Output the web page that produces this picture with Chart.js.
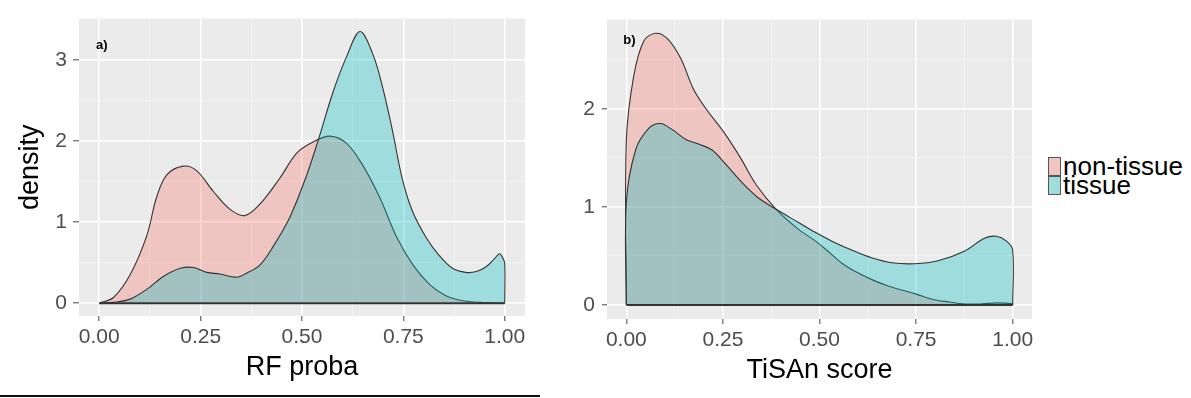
<!DOCTYPE html>
<html>
<head>
<meta charset="utf-8">
<script src="https://cdn.jsdelivr.net/npm/chart.js@4.4.1/dist/chart.umd.min.js"></script>
<style>
    body { margin: 0; background: #fff; width: 1191px; height: 398px; overflow: hidden; position: relative; font-family: "Liberation Sans", Arial, sans-serif; }
    #wrapA { position: absolute; left: 0; top: 0; }
    #wrapB { position: absolute; left: 545px; top: 0; }
    #legend { position: absolute; left: 1048px; top: 157px; }
    .row { display: flex; align-items: center; height: 19px; }
    .key { width: 11px; height: 17px; background: #EBEBEB; border: 1px solid #555; position: relative; }
    .key div { position: absolute; inset: 0; }
    .lbl { font-size: 26px; color: #000; margin-left: 2px; line-height: 19px; }
    #rule { position: absolute; left: 0; top: 395px; width: 540px; height: 2px; background: #111; }
</style>
</head>
<body>
<div id="wrapA"><canvas id="chartA" width="545" height="398"></canvas></div>
<div id="wrapB"><canvas id="chartB" width="500" height="398"></canvas></div>
<div id="legend"></div>
<div id="rule"></div>
<script>
// ✅ data
const seriesNames = ["non-tissue", "tissue"];

// a) RF proba
const rfNonTissueX = [0, 0.035, 0.076, 0.117, 0.141, 0.166, 0.207, 0.24, 0.281, 0.322, 0.359, 0.396, 0.445, 0.487, 0.528, 0.569, 0.61, 0.651, 0.692, 0.733, 0.774, 0.815, 0.856, 0.897, 0.938, 1.0];
const rfNonTissueY = [0, 0.07, 0.35, 0.83, 1.30, 1.58, 1.69, 1.635, 1.38, 1.16, 1.08, 1.22, 1.54, 1.85, 1.99, 2.06, 1.97, 1.69, 1.30, 0.82, 0.47, 0.23, 0.09, 0.03, 0.01, 0];
const rfTissueX = [0, 0.035, 0.076, 0.117, 0.158, 0.2, 0.232, 0.265, 0.297, 0.339, 0.363, 0.396, 0.429, 0.47, 0.511, 0.54, 0.577, 0.61, 0.643, 0.674, 0.698, 0.723, 0.747, 0.772, 0.805, 0.838, 0.871, 0.904, 0.93, 0.954, 0.975, 0.987, 0.995, 1.0, 1.0];
const rfTissueY = [0, 0.01, 0.05, 0.17, 0.33, 0.43, 0.44, 0.38, 0.36, 0.32, 0.37, 0.47, 0.70, 1.06, 1.57, 2.01, 2.61, 3.04, 3.35, 3.08, 2.68, 2.13, 1.54, 1.14, 0.82, 0.59, 0.43, 0.38, 0.39, 0.45, 0.55, 0.61, 0.56, 0.49, 0];

// b) TiSAn score
const tsNonTissueX = [0, 0, 0.019, 0.045, 0.075, 0.105, 0.14, 0.174, 0.208, 0.251, 0.294, 0.337, 0.389, 0.446, 0.49, 0.515, 0.56, 0.593, 0.64, 0.68, 0.75, 0.8, 0.836, 0.87, 0.92, 0.96, 1.0, 1.0];
const tsNonTissueY = [0, 1.67, 2.33, 2.69, 2.77, 2.72, 2.52, 2.20, 1.99, 1.77, 1.51, 1.22, 0.97, 0.77, 0.65, 0.57, 0.42, 0.34, 0.25, 0.19, 0.11, 0.05, 0.03, 0.01, 0.01, 0.02, 0.01, 0];
const tsTissueX = [0, 0, 0.024, 0.058, 0.088, 0.118, 0.153, 0.187, 0.222, 0.256, 0.299, 0.342, 0.39, 0.446, 0.489, 0.532, 0.583, 0.635, 0.687, 0.747, 0.807, 0.876, 0.927, 0.958, 0.984, 1.0, 1.0];
const tsTissueY = [0, 1.04, 1.58, 1.80, 1.85, 1.79, 1.69, 1.64, 1.58, 1.44, 1.25, 1.09, 0.97, 0.84, 0.74, 0.65, 0.56, 0.48, 0.43, 0.42, 0.45, 0.55, 0.68, 0.70, 0.65, 0.56, 0];

// tick values
const xMajorTicks = [0, 0.25, 0.5, 0.75, 1];
const xMinorTicks = [0.125, 0.375, 0.625, 0.875];
const yMajorTicksA = [0, 1, 2, 3];
const yMinorTicksA = [0.5, 1.5, 2.5];
const yMajorTicksB = [0, 1, 2];
const yMinorTicksB = [0.5, 1.5, 2.5];

// ✅ styles
const fills = ["rgba(248,118,109,0.32)", "rgba(0,191,196,0.32)"];
const outline = "#333";
const tickFont = { family: "Liberation Sans", size: 21 };
const titleFont = { family: "Liberation Sans", size: 27 };

const toPts = (xs, ys) => xs.map((x, i) => ({ x: x, y: ys[i] }));

const panelBg = {
    id: "panelBg",
    beforeDraw(chart) {
        const { ctx, chartArea: a } = chart;
        ctx.save();
        ctx.fillStyle = "#EBEBEB";
        ctx.fillRect(a.left, a.top, a.right - a.left, a.bottom - a.top);
        ctx.restore();
    }
};

const panelTag = {
    id: "panelTag",
    afterDatasetsDraw(chart, args, opts) {
        const { ctx, scales } = chart;
        ctx.save();
        ctx.font = "bold 13px 'Liberation Sans'";
        ctx.fillStyle = "#000";
        ctx.textAlign = "left";
        ctx.textBaseline = "middle";
        ctx.fillText(opts.text, scales.x.getPixelForValue(opts.x), scales.y.getPixelForValue(opts.y));
        ctx.restore();
    }
};

function makeTicks(major, minor) {
    return major.map(v => ({ value: v, isMajor: true }))
        .concat(minor.map(v => ({ value: v, isMajor: false })))
        .sort((p, q) => p.value - q.value);
}

function axis(opts) {
    return {
        type: "linear",
        min: opts.min,
        max: opts.max,
        afterBuildTicks: s => { s.ticks = makeTicks(opts.major, opts.minor); },
        afterFit: s => { if (opts.width) s.width = opts.width; if (opts.height) s.height = opts.height; },
        border: { display: false },
        grid: {
            color: c => (c.tick && c.tick.isMajor) ? "#FFFFFF" : "#F4F4F4",
            lineWidth: c => (c.tick && c.tick.isMajor) ? 1.6 : 0.9,
            tickColor: c => (c.tick && c.tick.isMajor) ? "#444" : "rgba(0,0,0,0)",
            tickWidth: 1,
            tickLength: opts.tickLength || 5,
            drawTicks: true
        },
        ticks: {
            autoSkip: false,
            maxRotation: 0,
            padding: opts.padding,
            color: "#4D4D4D",
            font: tickFont,
            callback: (v, i, ticks) => ticks[i].isMajor ? opts.fmt(v) : ""
        },
        title: {
            display: !!opts.title,
            text: opts.title || "",
            color: "#000",
            font: titleFont,
            padding: opts.titlePad || 0
        }
    };
}

function makeChart(id, nonX, nonY, tisX, tisY, cfg) {
    // density polygons are closed along y = 0
    const baseline = [
        { x: Math.min(nonX[0], tisX[0]), y: 0 },
        { x: Math.max(nonX[nonX.length - 1], tisX[tisX.length - 1]), y: 0 }
    ];
    return new Chart(document.getElementById(id), {
        type: "line",
        data: {
            datasets: [
                { label: seriesNames[0], data: toPts(nonX, nonY), backgroundColor: fills[0], order: 2, fill: "origin", borderWidth: 1.1 },
                { label: seriesNames[1], data: toPts(tisX, tisY), backgroundColor: fills[1], order: 1, fill: "origin", borderWidth: 1.1 },
                { label: "base", data: baseline, fill: false, order: 0, borderWidth: 2, tension: 0 }
            ].map(d => Object.assign({
                borderColor: outline,
                pointRadius: 0,
                tension: 0.35
            }, d))
        },
        options: {
            responsive: false,
            devicePixelRatio: 1,
            animation: false,
            layout: { padding: cfg.padding },
            plugins: {
                legend: { display: false },
                tooltip: { enabled: false },
                panelTag: cfg.tag
            },
            scales: { x: cfg.x, y: cfg.y }
        },
        plugins: [panelBg, panelTag]
    });
}

const fmtX = v => v.toFixed(2);
const fmtY = v => String(v);

makeChart("chartA", rfNonTissueX, rfNonTissueY, rfTissueX, rfTissueY, {
    padding: { top: 7, right: 20, left: 0, bottom: 0 },
    tag: { text: "a)", x: -0.008, y: 3.18 },
    x: axis({ min: -0.05, max: 1.05, major: xMajorTicks, minor: xMinorTicks, height: 82, padding: 4, fmt: fmtX, title: "RF proba", titlePad: { top: 0, bottom: 14 } }),
    y: axis({ min: -0.158, max: 3.509, major: yMajorTicksA, minor: yMinorTicksA, width: 79, padding: 6, tickLength: 6, fmt: fmtY, title: "density", titlePad: { top: 14, bottom: 0 } })
});

makeChart("chartB", tsNonTissueX, tsNonTissueY, tsTissueX, tsTissueY, {
    padding: { top: 7, right: 13, left: 0, bottom: 0 },
    tag: { text: "b)", x: -0.008, y: 2.70 },
    x: axis({ min: -0.05, max: 1.05, major: xMajorTicks, minor: xMinorTicks, height: 79, padding: 4, fmt: fmtX, title: "TiSAn score", titlePad: { top: 0, bottom: 11 } }),
    y: axis({ min: -0.144, max: 2.91, major: yMajorTicksB, minor: yMinorTicksB, width: 62, padding: 7, tickLength: 5, fmt: fmtY })
});

// ✅ legend
const legendEl = document.getElementById("legend");
seriesNames.forEach((name, i) => {
    const row = document.createElement("div");
    row.className = "row";
    row.innerHTML = `<div class="key"><div style="background:${fills[i]}"></div></div><span class="lbl">${name}</span>`;
    legendEl.appendChild(row);
});
</script>
</body>
</html>
